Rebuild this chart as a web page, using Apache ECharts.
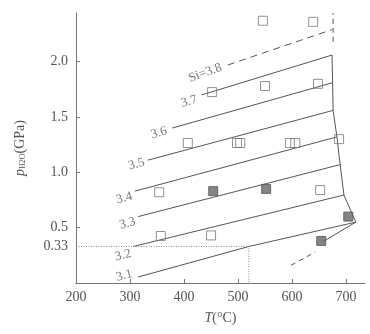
<!DOCTYPE html>
<html>
<head>
<meta charset="utf-8">
<script src="https://cdn.jsdelivr.net/npm/echarts@6/dist/echarts.min.js"></script>
<style>
  html, body { margin: 0; padding: 0; background: #fff; }
  #chart { width: 370px; height: 334px; }
</style>
</head>
<body>
<div id="chart"></div>
<script>
  // tick labels
  const xTicks = [200, 300, 400, 500, 600, 700];
  const yTicks = [0.33, 0.5, 1.0, 1.5, 2.0];

  // Si isopleths, [T(°C), p(GPa)]
  const si31 = [[315, 0.054], [520, 0.33], [718, 0.55]];
  const si32 = [[306, 0.33], [696, 0.795]];
  const si33 = [[315, 0.6], [689, 1.07]];
  const si34 = [[309, 0.83], [683, 1.32]];
  const si35 = [[333, 1.11], [676, 1.56]];
  const si36 = [[378, 1.4], [675, 1.81]];
  const si37 = [[433, 1.7], [674, 2.06]];
  const si38 = [[481, 1.97], [674, 2.29]];
  const siNames = ['3.1', '3.2', '3.3', '3.4', '3.5', '3.6', '3.7', 'Si=3.8'];

  // stability boundary and guide lines
  const boundary = [[674, 2.06], [675, 1.81], [676, 1.56], [683, 1.32], [689, 1.07], [696, 0.795], [718, 0.55], [656, 0.37]];
  const cutoff = [[200, 0.33], [520, 0.33], [520, 0]];
  const topDash = [[676, 2.18], [676, 2.44]];
  const lowDash = [[598, 0.16], [643, 0.28]];

  // samples
  const openSquares = [
    [546, 2.37], [639, 2.36],
    [452, 1.725], [550, 1.78], [648, 1.8],
    [407, 1.265], [498, 1.265], [504, 1.265], [596, 1.265], [606, 1.265], [687, 1.3],
    [354, 0.82], [652, 0.84],
    [357, 0.425], [450, 0.43]
  ];
  const filledSquares = [[454, 0.83], [552, 0.85], [704, 0.6], [654, 0.38]];

  const grey = '#555';
  const serif = '"Liberation Serif", "DejaVu Serif", serif';
  // label tilt and nudge (px) for each isopleth label
  const labelTilt = [15, 14, 14, 15, 15, 17, 16, 20];
  const labelNudge = [[-1, -4], [0, 7], [0, 5], [0, 5], [0, 2], [-2, 2], [-2, 4], [-3, 1]];

  let myChart = echarts.init(document.getElementById('chart'));

  const siLines = [si31, si32, si33, si34, si35, si36, si37, si38];
  let series = siLines.map(function (d, i) {
    return {
      name: siNames[i],
      type: 'line',
      data: d,
      showSymbol: false,
      lineStyle: { color: grey, width: 1, type: i === 7 ? [7, 5] : 'solid' }
    };
  });

  // labels sit at the left end of each line
  series.push({
    type: 'scatter',
    symbolSize: 0,
    data: siLines.map(function (d, i) {
      return {
        value: d[0],
        label: { show: true, formatter: siNames[i], rotate: labelTilt[i], offset: labelNudge[i] }
      };
    }),
    label: { position: 'left', distance: 4, color: grey, fontFamily: serif, fontSize: 13 }
  });

  series.push(
    { type: 'line', data: boundary, showSymbol: false, lineStyle: { color: grey, width: 1 } },
    { type: 'line', data: cutoff, showSymbol: false, lineStyle: { color: '#888', width: 1, type: [1, 1.5] } },
    { type: 'line', data: topDash, showSymbol: false, lineStyle: { color: grey, width: 1, type: [5, 4] } },
    { type: 'line', data: lowDash, showSymbol: false, lineStyle: { color: grey, width: 1, type: [5, 4] } },
    {
      type: 'scatter', data: openSquares, symbol: 'rect', symbolSize: 9, z: 5,
      itemStyle: { color: 'rgba(255,255,255,0)', borderColor: '#777', borderWidth: 1 }
    },
    {
      type: 'scatter', data: filledSquares, symbol: 'rect', symbolSize: 9, z: 5,
      itemStyle: { color: '#666', borderColor: '#555', borderWidth: 1 }
    }
  );

  myChart.setOption({
    animation: false,
    grid: { left: 76, right: 5, top: 13, bottom: 51 },
    xAxis: {
      type: 'value',
      min: 200,
      max: 735,
      name: '{i|T}(°C)',
      nameLocation: 'middle',
      nameGap: 28,
      nameTextStyle: {
        color: grey, fontFamily: serif, fontSize: 14,
        rich: { i: { fontStyle: 'italic', fontFamily: serif, fontSize: 14, color: grey } }
      },
      splitLine: { show: false },
      axisLine: { lineStyle: { color: '#777' } },
      axisTick: { inside: true, length: 4, customValues: [300, 400, 500, 600, 700], lineStyle: { color: '#777' } },
      axisLabel: { customValues: xTicks, color: grey, fontFamily: serif, fontSize: 14, margin: 7 }
    },
    yAxis: {
      type: 'value',
      min: 0,
      max: 2.44,
      name: '{i|p}{s|H2O}(GPa)',
      nameLocation: 'middle',
      nameGap: 49,
      nameTextStyle: {
        color: grey, fontFamily: serif, fontSize: 14,
        rich: {
          i: { fontStyle: 'italic', fontFamily: serif, fontSize: 14, color: grey },
          s: { fontFamily: serif, fontSize: 8, color: grey, padding: [6, 0, 0, 0] }
        }
      },
      splitLine: { show: false },
      axisLine: { show: true, lineStyle: { color: '#777' } },
      axisTick: { show: true, inside: true, length: 4, customValues: [0.5, 1.0, 1.5, 2.0], lineStyle: { color: '#777' } },
      axisLabel: {
        customValues: yTicks,
        color: grey, fontFamily: serif, fontSize: 14, margin: 8,
        formatter: function (v) { return v === 0.33 ? '0.33' : v.toFixed(1); }
      }
    },
    series: series
  });
</script>
</body>
</html>
